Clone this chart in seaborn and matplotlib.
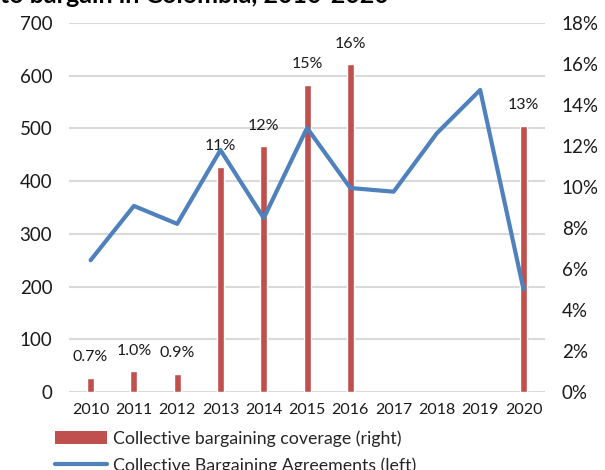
import numpy as np
import pandas as pd
import matplotlib
matplotlib.use("Agg")
import matplotlib.pyplot as plt
import seaborn as sns
from matplotlib.patches import Patch
from matplotlib.lines import Line2D

# Data
years = [2010, 2011, 2012, 2013, 2014, 2015, 2016, 2017, 2018, 2019, 2020]
coverage_pct = [0.7, 1.0, 0.9, 11, 12, 15, 16, np.nan, np.nan, np.nan, 13]
coverage_labels = ["0.7%", "1.0%", "0.9%", "11%", "12%", "15%", "16%", "", "", "", "13%"]
agreements = [250, 353, 319, 459, 330, 501, 387, 380, 491, 573, 195]
left_ticks = [0, 100, 200, 300, 400, 500, 600, 700]
right_ticks = [0, 2, 4, 6, 8, 10, 12, 14, 16, 18]

title_text = "to bargain in Colombia, 2010-2020"
bar_name = "Collective bargaining coverage (right)"
line_name = "Collective Bargaining Agreements (left)"

BAR_COLOR = "#C0504D"
LINE_COLOR = "#4F81BD"
GRID_COLOR = "#D9D9D9"

sns.set_theme(style="white")
plt.rcParams["font.family"] = ["Lato", "DejaVu Sans"]

df = pd.DataFrame({"year": years, "coverage": coverage_pct, "agreements": agreements})

fig = plt.figure(figsize=(6.05, 4.70), dpi=100)
ax_bar = fig.add_axes([0.114, 0.166, 0.787, 0.785])
ax_line = ax_bar.twinx()

# Coverage bars on the right-hand percentage scale
sns.barplot(data=df, x="year", y="coverage", native_scale=True, width=0.16,
            color=BAR_COLOR, saturation=1, ax=ax_bar, errorbar=None)
ax_bar.set_ylim(0, 18)
ax_bar.set_yticks(right_ticks)
ax_bar.set_yticklabels([f"{t}%" for t in right_ticks])
ax_bar.yaxis.tick_right()
ax_bar.yaxis.set_label_position("right")

for yr, val, lab in zip(years, coverage_pct, coverage_labels):
    if lab:
        ax_bar.annotate(lab, (yr, val), xytext=(0, 14.5), textcoords="offset points",
                        ha="center", va="center", fontsize=11.5, color="#1a1a1a")

# Agreements line on the left-hand count scale
sns.lineplot(data=df, x="year", y="agreements", color=LINE_COLOR, linewidth=3,
             ax=ax_line, legend=False)
ax_line.set_ylim(0, 700)
ax_line.set_yticks(left_ticks)
ax_line.yaxis.tick_left()
ax_line.yaxis.set_label_position("left")

# Horizontal gridlines follow the left scale, drawn beneath everything
for t in left_ticks:
    ax_bar.axhline(t * 18 / 700, color=GRID_COLOR, linewidth=1.5, zorder=0)

for a in (ax_bar, ax_line):
    a.set_xlim(2009.5, 2020.5)
    a.set_xlabel("")
    a.set_ylabel("")
    for s in a.spines.values():
        s.set_visible(False)
    a.grid(False)
    a.tick_params(length=0)

ax_bar.set_xticks(years)
ax_bar.set_xticklabels([str(y) for y in years])
ax_bar.tick_params(axis="x", labelsize=11.5, pad=8, colors="#1a1a1a")
ax_bar.tick_params(axis="y", labelsize=13.5, pad=12, colors="#1a1a1a")
ax_line.tick_params(axis="y", labelsize=13.5, pad=12, colors="#1a1a1a")
ax_line.tick_params(axis="x", labelbottom=False)

fig.text(0.0, 1.01, title_text, ha="left", va="center", fontsize=18,
         fontweight="bold", color="#000000")

handles = [Patch(facecolor=BAR_COLOR, edgecolor="none"),
           Line2D([0], [0], color=LINE_COLOR, linewidth=3)]
fig.legend(handles, [bar_name, line_name], loc="upper left",
           bbox_to_anchor=(0.091, 0.085), frameon=False, fontsize=12.8,
           handlelength=2.9, handleheight=0.8, labelspacing=0.6,
           handletextpad=0.35, borderaxespad=0, borderpad=0)

fig.savefig("out.png", dpi=100)
